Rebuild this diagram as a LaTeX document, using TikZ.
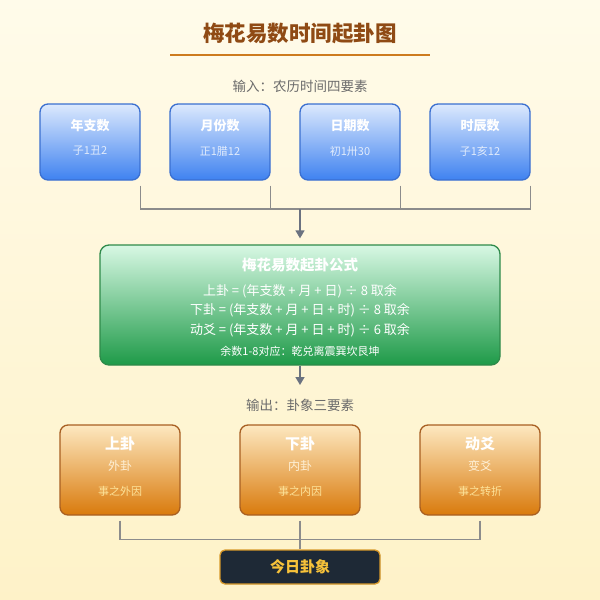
\documentclass[tikz,border=0pt]{standalone}
\usepackage{fontspec}
\setmainfont{Noto Sans CJK SC}
\usetikzlibrary{arrows.meta,calc}
\definecolor{bgtop}{HTML}{FFFBEA}
\definecolor{bgbot}{HTML}{FEF2C8}
\definecolor{titlec}{HTML}{8F4A14}
\definecolor{rulec}{HTML}{CD7B1F}
\definecolor{labelc}{HTML}{6B6B6B}
\definecolor{bluetop}{HTML}{DCE9FD}
\definecolor{bluebot}{HTML}{3F82F0}
\definecolor{blueline}{HTML}{3A6FD0}
\definecolor{bluesub}{HTML}{E2ECFC}
\definecolor{greentop}{HTML}{D8F8E4}
\definecolor{greenbot}{HTML}{1E9A48}
\definecolor{greenline}{HTML}{2F8A4A}
\definecolor{orangetop}{HTML}{FDE8C0}
\definecolor{orangebot}{HTML}{D97A0C}
\definecolor{orangeline}{HTML}{A85F22}
\definecolor{orangesub}{HTML}{FEF0D6}
\definecolor{orangenote}{HTML}{FDE39A}
\definecolor{darkfill}{HTML}{1E2936}
\definecolor{darkline}{HTML}{D99A2A}
\definecolor{goldc}{HTML}{F7C23A}
\definecolor{connc}{HTML}{8C8C8C}
\definecolor{arrowc}{HTML}{6B7280}
\tikzset{
  bluebox/.style={draw=blueline, line width=1.3pt, rounded corners=8pt, top color=bluetop, bottom color=bluebot, minimum width=100pt, minimum height=76pt, inner sep=0pt},
  greenbox/.style={draw=greenline, line width=1.3pt, rounded corners=9pt, top color=greentop, bottom color=greenbot, minimum width=400pt, minimum height=120pt, inner sep=0pt},
  orangebox/.style={draw=orangeline, line width=1.3pt, rounded corners=8pt, top color=orangetop, bottom color=orangebot, minimum width=120pt, minimum height=90pt, inner sep=0pt},
  darkbox/.style={draw=darkline, line width=1.3pt, rounded corners=5pt, fill=darkfill, minimum width=160pt, minimum height=34pt, inner sep=0pt},
  btitle/.style={text=white, font=\bfseries\fontsize{13}{15}\selectfont, inner sep=0pt},
  bsub/.style={text=bluesub, font=\fontsize{11}{13}\selectfont, inner sep=0pt},
  gtitle/.style={text=white, font=\bfseries\fontsize{14.5}{17}\selectfont, inner sep=0pt},
  gline/.style={text=white, font=\fontsize{13}{15}\selectfont, inner sep=0pt},
  gsmall/.style={text=white, font=\fontsize{11}{12}\selectfont, inner sep=0pt},
  otitle/.style={text=white, font=\bfseries\fontsize{15}{18}\selectfont, inner sep=0pt},
  osub/.style={text=orangesub, font=\fontsize{12}{14}\selectfont, inner sep=0pt},
  onote/.style={text=orangenote, font=\fontsize{11}{13}\selectfont, inner sep=0pt},
  seclabel/.style={text=labelc, font=\fontsize{13.5}{16}\selectfont, inner sep=0pt},
  conn/.style={draw=connc, line width=1.5pt},
  arrowline/.style={draw=arrowc, line width=1.5pt, -{Triangle[length=8pt,width=9pt]}}
}
\begin{document}
\begin{tikzpicture}[x=1pt,y=-1pt]
\shade[top color=bgtop, bottom color=bgbot] (0,0) rectangle (600,600);
\useasboundingbox (0,0) rectangle (600,600);
% title
\node[text=titlec, font=\bfseries\fontsize{21.5}{25}\selectfont, inner sep=0pt] (title) at (300,33) {梅花易数时间起卦图};
\coordinate (rl) at (170,54.5);
\coordinate (rr) at (430,54.5);
\draw[draw=rulec, line width=2pt] (rl) -- (rr);
\node[seclabel] (inlabel) at (300,86) {输入：农历时间四要素};
% blue boxes
\node[bluebox] (b1) at (90,142) {};
\node[bluebox] (b2) at (220,142) {};
\node[bluebox] (b3) at (350,142) {};
\node[bluebox] (b4) at (480,142) {};
\node[btitle] (b1t) at (90,126) {年支数};
\node[bsub] (b1s) at (90,151) {子1丑2};
\node[btitle] (b2t) at (220,126) {月份数};
\node[bsub] (b2s) at (220,151) {正1腊12};
\node[btitle] (b3t) at (350,126) {日期数};
\node[bsub] (b3s) at (350,151) {初1卅30};
\node[btitle] (b4t) at (480,126) {时辰数};
\node[bsub] (b4s) at (480,151) {子1亥12};
% merge to formula
\coordinate (hub) at (300,209);
\draw[conn] ([yshift=-5pt]b1.south east) |- (hub);
\draw[conn] ([yshift=-5pt]b2.south east) |- (hub);
\draw[conn] ([yshift=-5pt]b3.south east) |- (hub);
\draw[conn] ([yshift=-5pt]b4.south east) |- (hub);
% green box
\node[greenbox] (f) at (300,305) {};
\draw[arrowline, shorten >=6pt] (hub) -- (f.north);
\node[gtitle] (ft) at (300,265) {梅花易数起卦公式};
\node[gline] (f1) at (300,291) {上卦 = (年支数 + 月 + 日) ÷ 8 取余};
\node[gline] (f2) at (300,310.5) {下卦 = (年支数 + 月 + 日 + 时) ÷ 8 取余};
\node[gline] (f3) at (300,330) {动爻 = (年支数 + 月 + 日 + 时) ÷ 6 取余};
\node[gsmall] (f4) at (300,351) {余数1-8对应：乾兑离震巽坎艮坤};
\coordinate (fout) at (300,385);
\draw[arrowline] (f.south) -- (fout);
\node[seclabel] (outlabel) at (300,405) {输出：卦象三要素};
% orange boxes
\node[orangebox] (o1) at (120,470) {};
\node[orangebox] (o2) at (300,470) {};
\node[orangebox] (o3) at (480,470) {};
\node[otitle] (o1t) at (120,444) {上卦};
\node[osub] (o1s) at (120,466) {外卦};
\node[onote] (o1n) at (120,491.5) {事之外因};
\node[otitle] (o2t) at (300,444) {下卦};
\node[osub] (o2s) at (300,466) {内卦};
\node[onote] (o2n) at (300,491.5) {事之内因};
\node[otitle] (o3t) at (480,444) {动爻};
\node[osub] (o3s) at (480,466) {变爻};
\node[onote] (o3n) at (480,491.5) {事之转折};
% result
\node[darkbox] (res) at (300,567) {};
\node[text=goldc, font=\bfseries\fontsize{15}{18}\selectfont, inner sep=0pt] (rest) at (300,567) {今日卦象};
\coordinate (hub2) at (300,539.5);
\draw[conn] ([yshift=-5pt]o1.south) |- (hub2);
\draw[conn] ([yshift=-5pt]o3.south) |- (hub2);
\draw[conn] ([yshift=-5pt]o2.south) -- (res.north);
\end{tikzpicture}
\end{document}
